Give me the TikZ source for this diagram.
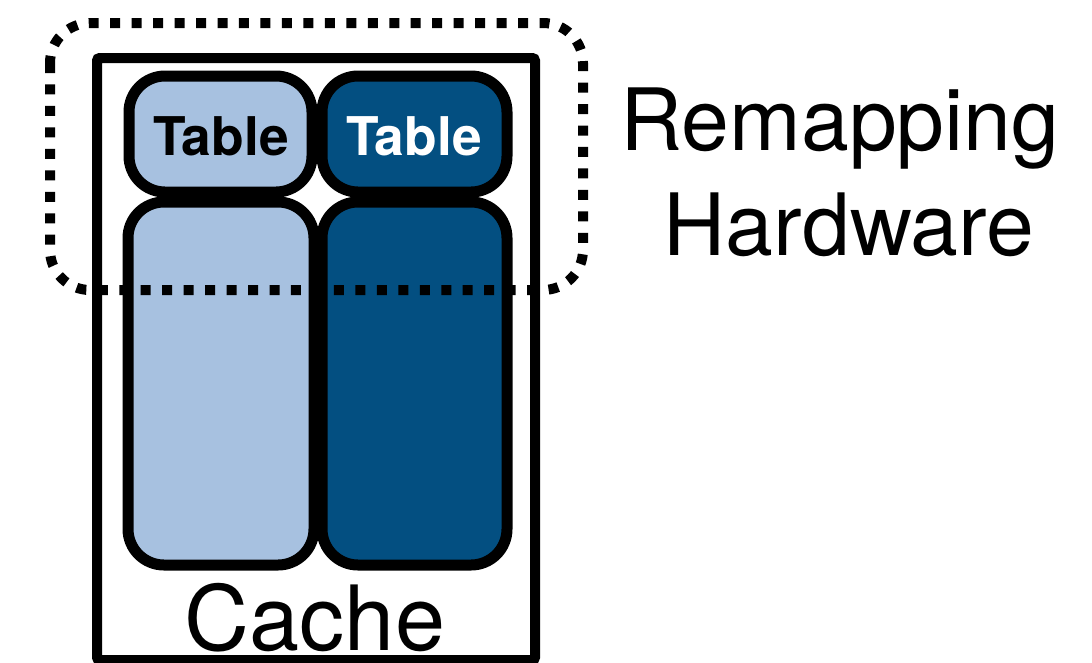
\documentclass[tikz,border=0pt]{standalone}
\usepackage{fontspec}
\setmainfont{TeX Gyre Heros}
\definecolor{lightblue}{HTML}{A7C1E0}
\definecolor{darkblue}{HTML}{034F81}
\tikzset{
  part/.style={draw=black, line width=8.25pt, rounded corners=27pt},
  hw/.style={draw=black, line width=7.5pt, rounded corners=30pt, dash pattern=on 7.5pt off 8.6pt},
  tablelabel/.style={anchor=base, font=\fontsize{40}{48}\selectfont\bfseries, inner sep=0},
  biglabel/.style={anchor=base, inner sep=0, text depth=0pt},
}
\begin{document}
\begin{tikzpicture}[x=0.75pt,y=-0.75pt]
\useasboundingbox (0,0) rectangle (1092,662);
\clip (0,0) rectangle (1092,662);
% cache box
\draw[line width=7.5pt, rounded corners=2pt] (97,58) rectangle (535,660);
% lower partitions
\draw[part, fill=lightblue] (128,202) rectangle (314,565);
\draw[part, fill=darkblue] (322,202) rectangle (507,565);
% tables
\draw[part, fill=lightblue] (129,76) rectangle (312,192);
\draw[part, fill=darkblue] (322,76) rectangle (507,192);
\node[tablelabel, text=black] (t1) at (221,155) {Table};
\node[tablelabel, text=white] (t2) at (414,155) {Table};
% remapping hardware region
\draw[hw] (50,23) rectangle (583,290);
% labels
\node[biglabel, font=\fontsize{67.5}{80}\selectfont] (cache) at (315,650) {Cache};
\node[biglabel, font=\fontsize{64.5}{78}\selectfont] (rem) at (840,150) {Remapping};
\node[biglabel, font=\fontsize{64.5}{78}\selectfont] (hwl) at (849,255) {Hardware};
\end{tikzpicture}
\end{document}
